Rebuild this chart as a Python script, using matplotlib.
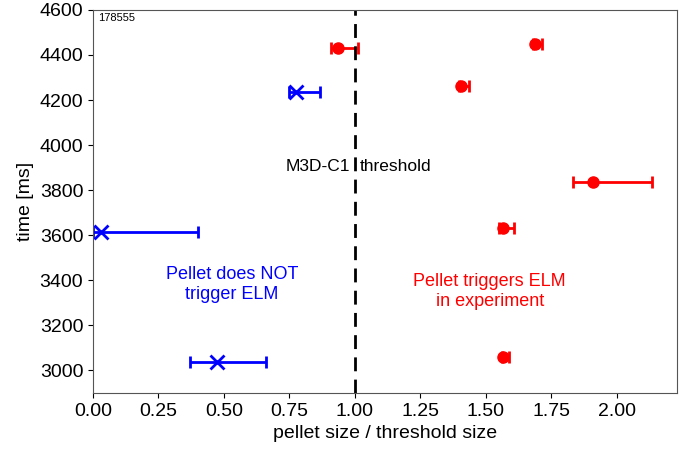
import matplotlib
matplotlib.use("Agg")
import matplotlib.pyplot as plt

plt.rcParams['font.family'] = ['Liberation Sans', 'DejaVu Sans']

# pellets that trigger an ELM
elm_x = [0.935, 1.687, 1.405, 1.908, 1.565, 1.565]
elm_t = [4432, 4449, 4263, 3838, 3634, 3057]
elm_lo = [0.027, 0.008, 0.008, 0.076, 0.015, 0.005]
elm_hi = [0.076, 0.027, 0.03, 0.226, 0.042, 0.023]

# pellets that do not trigger an ELM
no_x = [0.775, 0.03, 0.473]
no_t = [4237, 3612, 3035]
no_lo = [0.027, 0.03, 0.103]
no_hi = [0.091, 0.37, 0.187]

threshold = 1.0

fig = plt.figure(figsize=(6.86, 4.5), dpi=100)
ax = fig.add_axes([0.1356, 0.127, 0.851, 0.851])

ax.errorbar(elm_x, elm_t, xerr=[elm_lo, elm_hi], fmt='o', color='red',
            ms=8, elinewidth=2, capsize=4, capthick=2)
ax.errorbar(no_x, no_t, xerr=[no_lo, no_hi], fmt='x', color='blue',
            ms=10, mew=2, elinewidth=2, capsize=4, capthick=2)

ax.axvline(threshold, color='black', ls=(0, (5, 3)), lw=2)

ax.text(0.98, 3904, 'M3D-C1', ha='right', va='center', fontsize=12.5)
ax.text(1.02, 3904, 'threshold', ha='left', va='center', fontsize=12.5)
ax.text(0.53, 3380, 'Pellet does NOT\ntrigger ELM', color='blue',
        ha='center', va='center', fontsize=13)
ax.text(1.515, 3350, 'Pellet triggers ELM\nin experiment', color='red',
        ha='center', va='center', fontsize=13)
ax.text(0.008, 0.993, '178555', transform=ax.transAxes, ha='left', va='top',
        fontsize=8)

ax.set_xlim(0, 2.229)
ax.set_ylim(2900, 4600)
ax.set_xticks([0, 0.25, 0.5, 0.75, 1.0, 1.25, 1.5, 1.75, 2.0])
ax.set_yticks(range(3000, 4601, 200))
ax.tick_params(labelsize=14)
ax.set_xlabel('pellet size / threshold size', fontsize=14)
ax.set_ylabel('time [ms]', fontsize=14)
for s in ax.spines.values():
    s.set_color('#555555')

fig.savefig('out.png', dpi=100)
